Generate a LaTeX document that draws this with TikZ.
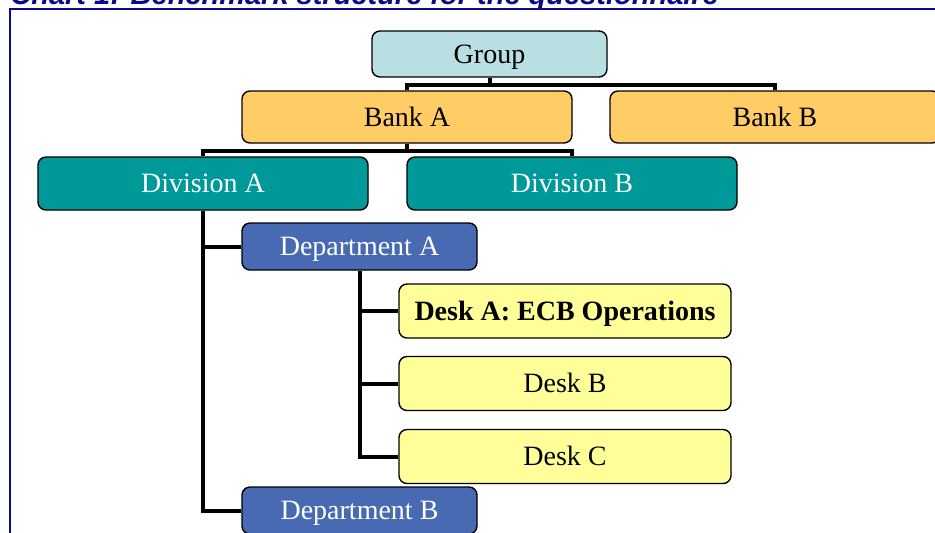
\documentclass[tikz,border=0pt]{standalone}
\usepackage{fontspec}
\setmainfont{Liberation Serif}
\newfontfamily\titlefont{Liberation Sans}
\definecolor{grpblue}{RGB}{185,223,227}
\definecolor{bankorange}{RGB}{255,204,102}
\definecolor{divteal}{RGB}{0,153,153}
\definecolor{deptblue}{RGB}{71,106,178}
\definecolor{deskyellow}{RGB}{255,255,153}
\definecolor{chartnavy}{RGB}{10,10,140}

\begin{document}
\begin{tikzpicture}[x=1pt,y=1pt,
    box/.style={draw=black,line width=0.7pt,rounded corners=4pt,inner sep=0pt,
                text height=11pt,text depth=1.7pt,
                font=\fontsize{14}{16}\selectfont},
    grp/.style={box,fill=grpblue,minimum width=117.5pt,minimum height=23pt},
    bank/.style={box,fill=bankorange,minimum width=165pt,minimum height=26pt},
    div/.style={box,fill=divteal,text=white,minimum width=165pt,minimum height=26.5pt},
    dept/.style={box,fill=deptblue,text=white,minimum width=117.5pt,minimum height=23.5pt},
    desk/.style={box,fill=deskyellow,minimum width=166pt,minimum height=27pt},
    link/.style={line width=2pt,black}]
    \useasboundingbox (0,0) rectangle (467.5,-266);
    % title and frame
    \node[anchor=base west,inner sep=0pt,text=chartnavy,
          font=\titlefont\bfseries\itshape\fontsize{14.5}{16}\selectfont] (title) at (5,-2)
        {Chart 1: Benchmark structure for the questionnaire};
    \draw[chartnavy,line width=1.3pt] (5,-300) |- (500,-4.5);
    % boxes
    \node[grp]  (group) at (244.75,-27)    {Group};
    \node[bank] (banka) at (203.5,-58.5)   {Bank A};
    \node[bank] (bankb) at (387.5,-58.5)   {Bank B};
    \node[div]  (diva)  at (101.5,-91.75)  {Division A};
    \node[div]  (divb)  at (286,-91.75)    {Division B};
    \node[dept] (depta) at (179.75,-123.25) {Department A};
    \node[desk] (deska) at (282.5,-155.5)  {\bfseries Desk A: ECB Operations};
    \node[desk] (deskb) at (282.5,-191.75) {Desk B};
    \node[desk] (deskc) at (282.5,-228.25) {Desk C};
    \node[dept] (deptb) at (179.75,-255.25) {Department B};
    % links
    \draw[link] (group.south) -- ++(0,-3.5) -| (banka.north);
    \draw[link] (group.south) -- ++(0,-3.5) -| (bankb.north);
    \draw[link] (banka.south) -- ++(0,-3.5) -| (diva.north);
    \draw[link] (banka.south) -- ++(0,-3.5) -| (divb.north);
    \draw[link] (diva.south) |- (depta.west);
    \draw[link] (diva.south) |- (deptb.west);
    \foreach \d in {deska,deskb,deskc}
        \draw[link] (depta.south) |- (\d.west);
\end{tikzpicture}
\end{document}
